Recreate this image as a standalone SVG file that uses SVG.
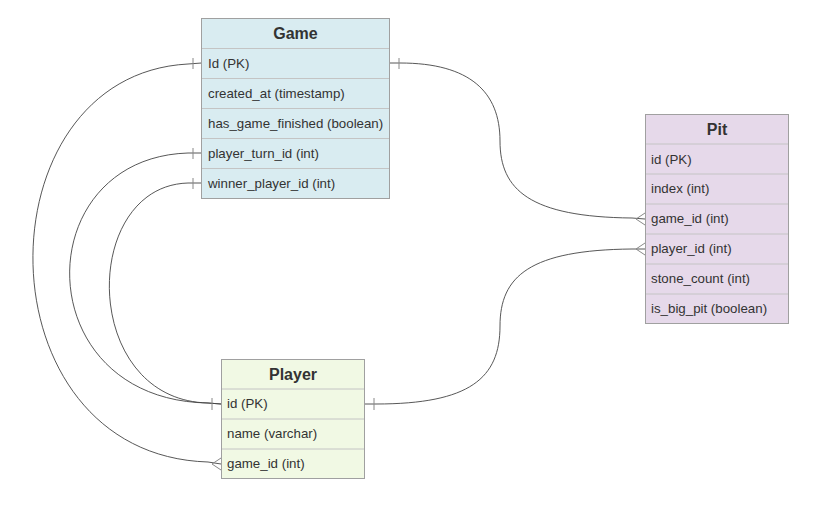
<svg xmlns="http://www.w3.org/2000/svg" width="819" height="507" viewBox="0 0 819 507">
<style>
.t{font-family:"Liberation Sans",Arial,sans-serif;font-size:13.3px;fill:#333}
.h{font-family:"Liberation Sans",Arial,sans-serif;font-size:16px;font-weight:bold;fill:#333;text-anchor:middle}
.box{stroke:#a0a0a0;stroke-width:1}
.sep{stroke:#c4c4c4;stroke-width:1}
.c{fill:none;stroke:#444;stroke-width:0.9}
.m{fill:none;stroke:#888;stroke-width:1}
</style>
<rect width="819" height="507" fill="#fff"/>
<g id="connectors">
<path class="c" d="M201.5,63 L188,64 C -22,75 -22,455 208,462 L221,464"/>
<path class="c" d="M201.5,153 L188,153 C 27,158 27,400 208,403 L221,404"/>
<path class="c" d="M201.5,183 L188,183 C 80,186 80,400 208,403 L221,404"/>
<path class="c" d="M389.5,63 L400,63 C 470,63 500,92 500,141 C 500,190 530,217 632,218 L645,219"/>
<path class="c" d="M365,404 L376,404 C 470,404 500,378 500,326 C 500,276 530,250 632,249 L645,249"/>
<path class="m" d="M193,58 V69 M193,148 V159 M193,178 V189 M399,58 V69 M212,398 V410 M374,398 V410"/>
<path class="m" d="M645,213 L636,219 L645,225 M645,243 L636,249 L645,255 M221,458 L212,464 L221,470"/>
</g>
<g id="game">
<rect class="box" x="201.5" y="18.5" width="188" height="180" fill="#d9ecf1"/>
<path class="sep" d="M202,48.5H389M202,78.5H389M202,108.5H389M202,138.5H389M202,168.5H389"/>
<text class="h" x="295.5" y="39">Game</text>
<text class="t" x="208" y="68">Id (PK)</text>
<text class="t" x="208" y="98">created_at (timestamp)</text>
<text class="t" x="208" y="128">has_game_finished (boolean)</text>
<text class="t" x="208" y="158">player_turn_id (int)</text>
<text class="t" x="208" y="188">winner_player_id (int)</text>
</g>
<g id="pit">
<rect class="box" x="645.5" y="114.5" width="143" height="209" fill="#e6d9ea"/>
<path class="sep" d="M646,144H788M646,174H788M646,204H788M646,234H788M646,264H788M646,294H788"/>
<text class="h" x="717" y="135">Pit</text>
<text class="t" x="651" y="164">id (PK)</text>
<text class="t" x="651" y="193">index (int)</text>
<text class="t" x="651" y="223">game_id (int)</text>
<text class="t" x="651" y="253">player_id (int)</text>
<text class="t" x="651" y="283">stone_count (int)</text>
<text class="t" x="651" y="313">is_big_pit (boolean)</text>
</g>
<g id="player">
<rect class="box" x="221.5" y="359.5" width="143" height="119" fill="#f1f9e4"/>
<path class="sep" d="M222,389H364M222,419H364M222,449H364"/>
<text class="h" x="293" y="380">Player</text>
<text class="t" x="227" y="408">id (PK)</text>
<text class="t" x="227" y="438">name (varchar)</text>
<text class="t" x="227" y="468">game_id (int)</text>
</g>
</svg>
